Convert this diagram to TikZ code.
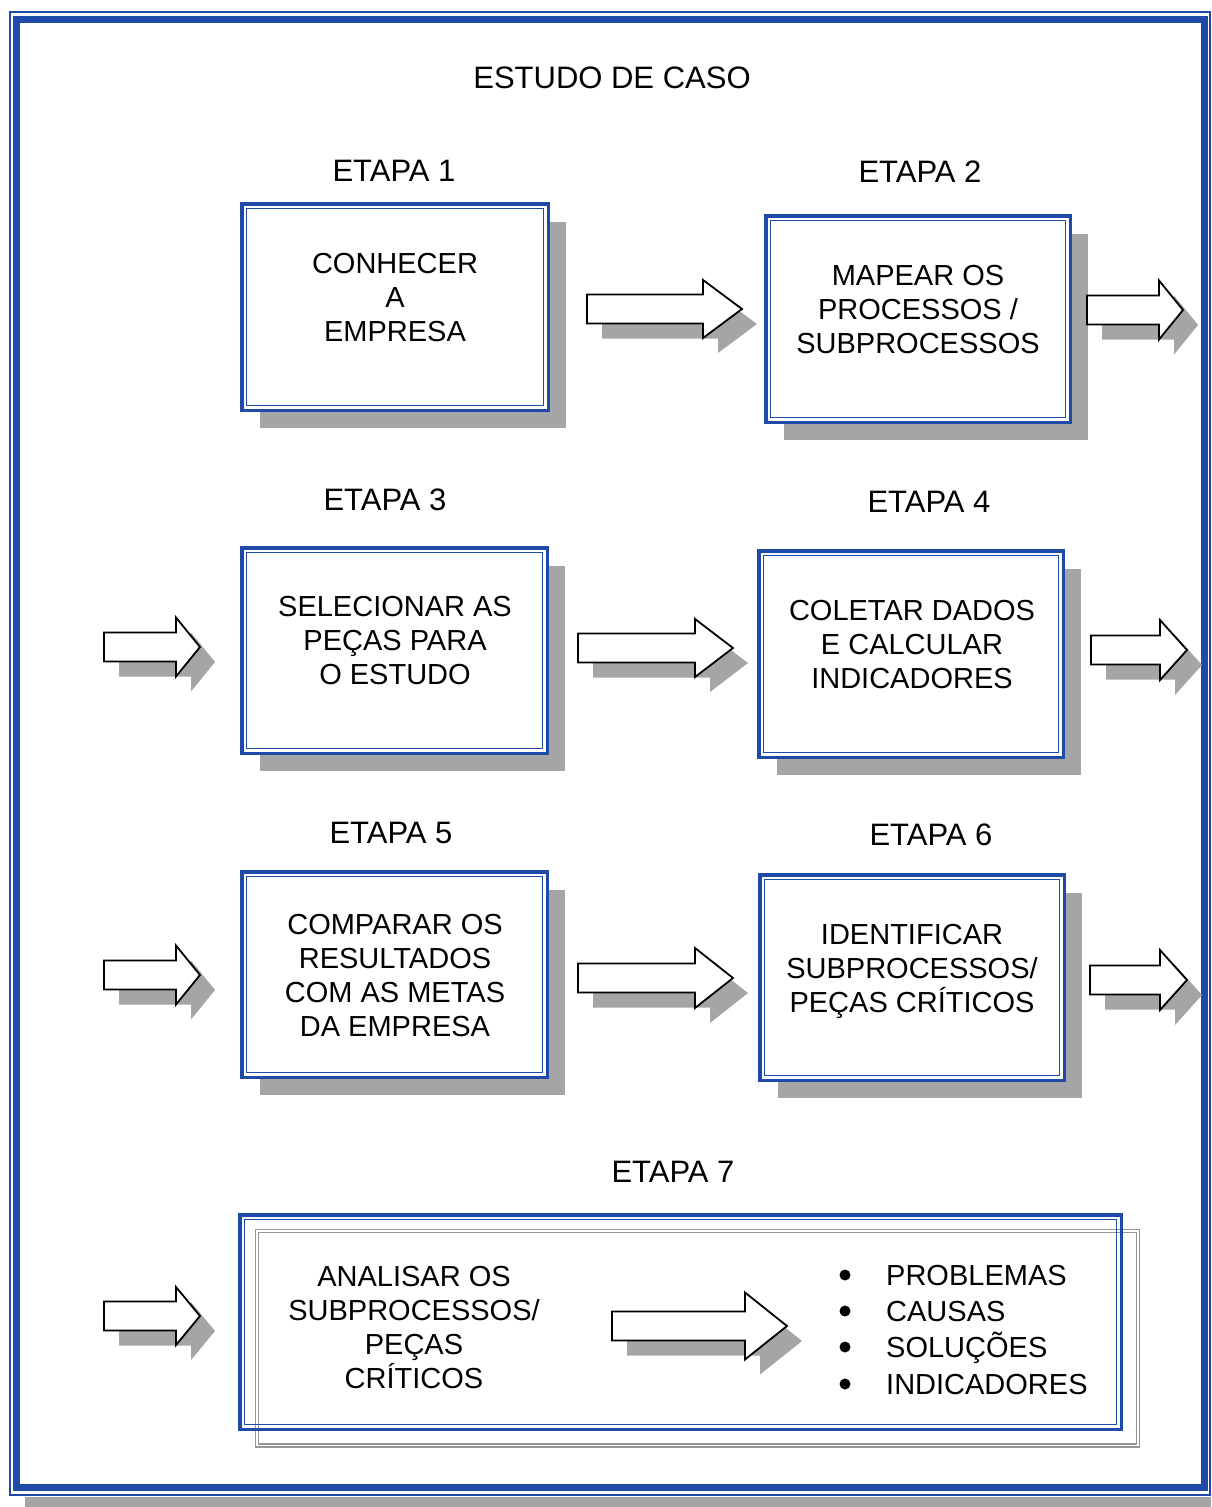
\documentclass[tikz,border=0pt]{standalone}
\usepackage{fontspec}
\setmainfont{Liberation Sans}
\usetikzlibrary{calc,shadows}

\definecolor{frameblue}{RGB}{32,74,168}
\definecolor{shadegray}{RGB}{165,165,165}
\definecolor{ghostgray}{RGB}{150,150,150}

\tikzset{
  stepbox/.style={draw=frameblue, line width=3.5pt, fill=white, inner sep=0pt, outer sep=0pt,
    drop shadow={shadow xshift=18pt, shadow yshift=-18pt, fill=shadegray, opacity=1}},
  widebox/.style={draw=frameblue, line width=3.5pt, inner sep=0pt, outer sep=0pt},
  innerline/.style={draw=frameblue, line width=1.3pt},
  boxtext/.style={align=center, inner sep=0pt, font=\fontsize{29}{34}\selectfont},
  listtext/.style={inner sep=0pt, anchor=base west, font=\fontsize{29}{34}\selectfont},
  heading/.style={inner sep=0pt, font=\fontsize{31}{36}\selectfont},
  arrowline/.style={draw=black, fill=white, line width=1.8pt, line join=miter},
}

% thin inner rule of a double-framed box
\newcommand\innerframe[1]{%
  \draw[innerline] ($(#1.north west)+(4.5,4.5)$) rectangle ($(#1.south east)+(-4.5,-4.5)$);}

% hollow block arrow with its shadow:
% left x, middle y, tip x, head base x, half head height
\newcommand\blockarrow[5]{%
  \fill[shadegray, shift={(15,15)}] (#1,#2-14.5) -- (#4,#2-14.5) -- (#4,#2-#5) -- (#3,#2)
     -- (#4,#2+#5) -- (#4,#2+14.5) -- (#1,#2+14.5) -- cycle;
  \draw[arrowline] (#1,#2-14.5) -- (#4,#2-14.5) -- (#4,#2-#5) -- (#3,#2)
     -- (#4,#2+#5) -- (#4,#2+14.5) -- (#1,#2+14.5) -- cycle;}

\begin{document}
\begin{tikzpicture}[x=1pt,y=-1pt]
\useasboundingbox (0,0) rectangle (1211,1507);

% page frame
\fill[shadegray] (25,1497) rectangle (1211,1507);
\draw[frameblue, line width=2pt] (9.5,12) rectangle (1210,1494.5);
\draw[frameblue, line width=7pt] (16.5,19) rectangle (1204,1487.5);

% headings
\node[heading] (title) at (612,78) {ESTUDO DE CASO};
\node[heading] (h1) at (394,171) {ETAPA 1};
\node[heading] (h2) at (920,172) {ETAPA 2};
\node[heading] (h3) at (385,500) {ETAPA 3};
\node[heading] (h4) at (929,502) {ETAPA 4};
\node[heading] (h5) at (391,833) {ETAPA 5};
\node[heading] (h6) at (931,835) {ETAPA 6};
\node[heading] (h7) at (673,1172) {ETAPA 7};

% step boxes
\node[stepbox, minimum width=306.5pt, minimum height=206.5pt] (b1) at (395,307) {};
\innerframe{b1}
\node[stepbox, minimum width=304.5pt, minimum height=206.5pt] (b2) at (918,319) {};
\innerframe{b2}
\node[stepbox, minimum width=305.5pt, minimum height=205.5pt] (b3) at (394.5,650.5) {};
\innerframe{b3}
\node[stepbox, minimum width=304.5pt, minimum height=206.5pt] (b4) at (911,654) {};
\innerframe{b4}
\node[stepbox, minimum width=305.5pt, minimum height=205.5pt] (b5) at (394.5,974.5) {};
\innerframe{b5}
\node[stepbox, minimum width=304.5pt, minimum height=205.5pt] (b6) at (912,977.5) {};
\innerframe{b6}

% last step: grey offset frame behind the blue one
\draw[ghostgray, line width=1.3pt] (255.5,1229.5) rectangle (1139.5,1447);
\draw[ghostgray, line width=1.3pt] (258.5,1232.5) rectangle (1136.5,1444);
\node[widebox, minimum width=881.5pt, minimum height=214.5pt] (b7) at (680.5,1322) {};
\innerframe{b7}

% box texts
\node[boxtext] (t1) at (395,298) {CONHECER\\A\\EMPRESA};
\node[boxtext] (t2) at (918,310) {MAPEAR OS\\PROCESSOS /\\SUBPROCESSOS};
\node[boxtext] (t3) at (395,641) {SELECIONAR AS\\PEÇAS PARA\\O ESTUDO};
\node[boxtext] (t4) at (912,645) {COLETAR DADOS\\E CALCULAR\\INDICADORES};
\node[boxtext] (t5) at (395,976) {COMPARAR OS\\RESULTADOS\\COM AS METAS\\DA EMPRESA};
\node[boxtext] (t6) at (912,971) {IDENTIFICAR\\SUBPROCESSOS/\\PEÇAS CRÍTICOS};
\node[boxtext] (t7) at (414,1327) {ANALISAR OS\\SUBPROCESSOS/\\PEÇAS\\CRÍTICOS};

% outcome list
\foreach \y/\txt [count=\i] in {1275/PROBLEMAS, 1311/CAUSAS, 1347/SOLUÇÕES, 1384/INDICADORES}{
  \fill[black] (845,\y) circle (5.5pt);
  \node[listtext] (l\i) at (886,\y+10.4) {\txt};
}

% block arrows
\blockarrow{587}{309}{742}{703}{29}
\blockarrow{1087}{310}{1183}{1159}{29.5}
\blockarrow{104}{647}{200}{176}{29.5}
\blockarrow{578}{648}{733}{695}{29}
\blockarrow{1091}{650}{1187}{1160}{30}
\blockarrow{104}{975}{200}{176}{29.5}
\blockarrow{578}{978}{733}{695}{30}
\blockarrow{1090}{980}{1187}{1160}{30}
\blockarrow{104}{1316}{200}{176}{29}
\blockarrow{612}{1326}{787}{745}{33.5}
\end{tikzpicture}
\end{document}
